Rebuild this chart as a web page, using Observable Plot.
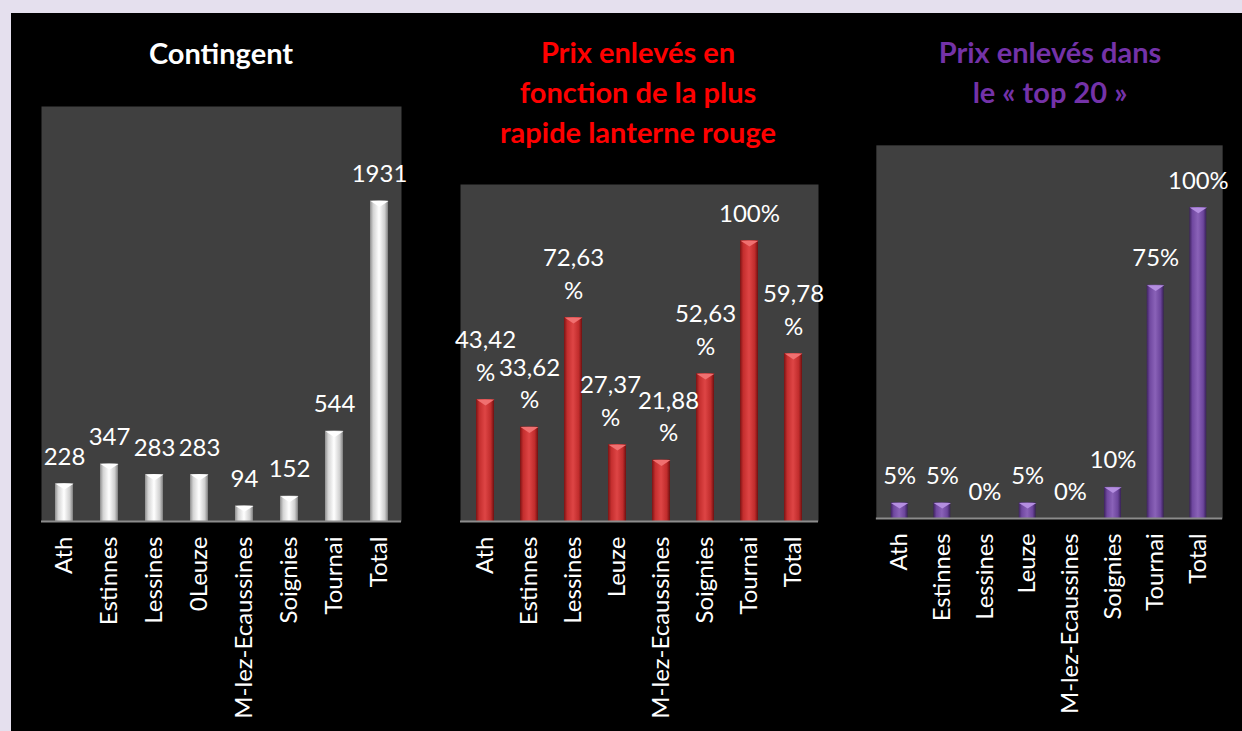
<!DOCTYPE html>
<html><head><meta charset="utf-8">
<script src="https://cdn.jsdelivr.net/npm/d3@7"></script>
<script src="https://cdn.jsdelivr.net/npm/@observablehq/plot@0.6"></script>
<style>
html,body{margin:0;padding:0;width:1242px;height:731px;overflow:hidden;background:#e5e0ee;font-family:Lato,"Open Sans",sans-serif;}
#panel{position:absolute;left:11px;top:13px;width:1240px;height:730px;background:#000;}
.chart{position:absolute;}
.chart svg{overflow:visible;}
.title{position:absolute;text-align:center;font-weight:bold;font-size:29px;line-height:40px;white-space:nowrap;}
</style></head><body>
<div id="panel"></div>
<div class="title" style="left:71px;top:33px;width:300px;color:#ffffff">Contingent</div>
<div class="title" style="left:488px;top:32px;width:300px;color:#ff0000">Prix enlevés en<br>fonction de la plus<br>rapide lanterne rouge</div>
<div class="title" style="left:900px;top:32px;width:300px;color:#7432a8">Prix enlevés dans<br>le « top 20 »</div>
<div id="c1" class="chart" style="left:21px;top:86px"></div>
<div id="c2" class="chart" style="left:440px;top:164px"></div>
<div id="c3" class="chart" style="left:856px;top:125px"></div>
<script>
// ---- data ----
const contingentCats = ["Ath","Estinnes","Lessines","0Leuze","M-lez-Ecaussines","Soignies","Tournai","Total"];
const contingentValues = [228, 347, 283, 283, 94, 152, 544, 1931];

const lanterneCats = ["Ath","Estinnes","Lessines","Leuze","M-lez-Ecaussines","Soignies","Tournai","Total"];
const lanterneValues = [43.42, 33.62, 72.63, 27.37, 21.88, 52.63, 100, 59.78];

const top20Cats = ["Ath","Estinnes","Lessines","Leuze","M-lez-Ecaussines","Soignies","Tournai","Total"];
const top20Values = [5, 5, 0, 5, 0, 10, 75, 100];

// ---- labels ----
const contingentLabels = contingentValues.map(v => String(v));
const lanterneLabels = lanterneValues.map(v => v === 100 ? "100%" : v.toFixed(2).replace(".", ",") + "\n%");
const top20Labels = top20Values.map(v => v + "%");
// small horizontal nudges (px) so neighbouring wrapped labels do not collide
const lanterneNudge = {"Leuze": -7, "M-lez-Ecaussines": 7};

const capSymbol = {
  draw(ctx, size) {
    const w = Math.sqrt(size);
    ctx.moveTo(-w / 2, 0);
    ctx.lineTo(w / 2, 0);
    ctx.lineTo(0, w * 0.33);
    ctx.closePath();
  }
};

function makeChart(el, {cats, values, labels, yMax, id, stops, cap, width, plotH, nudge = {}}) {
  const data = cats.map((c, i) => ({c, v: values[i], label: labels[i]}));
  const step = (width - 40) / cats.length;
  const bw = step * 0.4;
  const textOpts = {x: "c", y: "v", text: "label", lineAnchor: "bottom", dy: -19, fill: "#fff", fontSize: 24, lineHeight: 1.35};
  const plain = data.filter(d => !(d.c in nudge));
  const nudged = data.filter(d => d.c in nudge);
  const svg = Plot.plot({
    width, height: 20 + plotH + 210,
    marginLeft: 20, marginRight: 20, marginTop: 20, marginBottom: 210,
    style: {background: "transparent", color: "#fff", fontFamily: "Lato, 'Open Sans', sans-serif", overflow: "visible"},
    x: {domain: cats, paddingInner: 0.6, paddingOuter: 0.3},
    y: {domain: [0, yMax], axis: null},
    marks: [
      Plot.frame({fill: "#404040", stroke: null}),
      Plot.barY(data, {x: "c", y: "v", fill: `url(#${id})`}),
      Plot.dot(data.filter(d => d.v > 0), {x: "c", y: "v", symbol: capSymbol, r: bw / Math.sqrt(Math.PI), fill: cap, stroke: null}),
      Plot.ruleY([0], {stroke: "#8c8c8c", strokeWidth: 2}),
      Plot.text(plain, textOpts),
      ...nudged.map(d => Plot.text([d], {...textOpts, dx: nudge[d.c]})),
      Plot.axisX({tickRotate: -90, tickSize: 0, tickPadding: 15, fontSize: 24, fill: "#fff", label: null})
    ]
  });
  const defs = d3.select(svg).insert("defs", ":first-child");
  const g = defs.append("linearGradient").attr("id", id)
    .attr("x1", 0).attr("x2", 1).attr("y1", 0).attr("y2", 0);
  stops.forEach(([o, c]) => g.append("stop").attr("offset", o).attr("stop-color", c));
  document.getElementById(el).appendChild(svg);
}

makeChart("c1", {
  cats: contingentCats, values: contingentValues, labels: contingentLabels,
  yMax: 2500, id: "gWhite", cap: "#ffffff", width: 400, plotH: 415,
  stops: [[0, "#8e8e8e"], [0.18, "#d4d4d4"], [0.5, "#ffffff"], [0.82, "#cfcfcf"], [1, "#7e7e7e"]]
});
makeChart("c2", {
  cats: lanterneCats, values: lanterneValues, labels: lanterneLabels, nudge: lanterneNudge,
  yMax: 120, id: "gRed", cap: "#f07070", width: 398, plotH: 337,
  stops: [[0, "#7a1414"], [0.18, "#c42e2e"], [0.5, "#de4545"], [0.82, "#c02c2c"], [1, "#6e1010"]]
});
makeChart("c3", {
  cats: top20Cats, values: top20Values, labels: top20Labels,
  yMax: 120, id: "gPurple", cap: "#b48ee0", width: 389, plotH: 376,
  stops: [[0, "#3e2260"], [0.18, "#7048a0"], [0.5, "#8a62b8"], [0.82, "#6c459c"], [1, "#382058"]]
});
</script>
</body></html>
